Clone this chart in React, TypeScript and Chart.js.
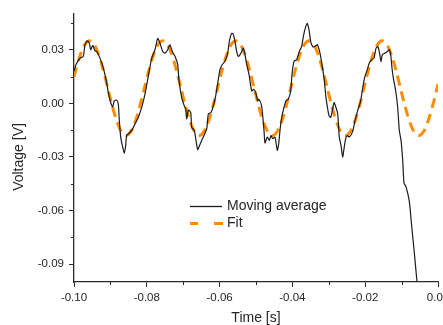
import React, { useEffect, useRef } from "react";
import { Chart, registerables } from "chart.js";

Chart.register(...registerables);

// Moving-average trace: time [s] and voltage [V]
const maTime = [
  -0.1, -0.09945, -0.09835, -0.09745, -0.09698, -0.09635, -0.0958, -0.09541, -0.09486, -0.09423,
  -0.09376, -0.09286, -0.09195, -0.09102, -0.09058, -0.08992, -0.08937, -0.08893, -0.08827, -0.08783,
  -0.08755, -0.08717, -0.08662, -0.08618, -0.0858, -0.08552, -0.08462, -0.08387, -0.08324, -0.08234,
  -0.0814, -0.0805, -0.07959, -0.07865, -0.07775, -0.07701, -0.07637, -0.07563, -0.075, -0.07426,
  -0.07363, -0.073, -0.07225, -0.07151, -0.07115, -0.07041, -0.0697, -0.06931, -0.06904, -0.0686,
  -0.06794, -0.06766, -0.06695, -0.06648, -0.06602, -0.06547, -0.06492, -0.06429, -0.06354, -0.0631,
  -0.06236, -0.06173, -0.06107, -0.06036, -0.05989, -0.05926, -0.05852, -0.05777, -0.05734, -0.05668,
  -0.05624, -0.05577, -0.0553, -0.05486, -0.05412, -0.05349, -0.05302, -0.05255, -0.05192, -0.05118,
  -0.05063, -0.05008, -0.04953, -0.04918, -0.04843, -0.0478, -0.04753, -0.0469, -0.04635, -0.04588,
  -0.04541, -0.04478, -0.04415, -0.04376, -0.04341, -0.04294, -0.04231, -0.04176, -0.04113, -0.04047,
  -0.04011, -0.03956, -0.03882, -0.0381, -0.03745, -0.037, -0.03635, -0.03591, -0.03544, -0.03497,
  -0.03442, -0.03379, -0.03316, -0.03242, -0.03187, -0.03132, -0.03077, -0.0303, -0.02995, -0.02948,
  -0.02904, -0.02857, -0.02802, -0.02755, -0.02712, -0.02665, -0.02618, -0.02582, -0.02536, -0.02492,
  -0.02437, -0.02349, -0.0228, -0.02212, -0.02124, -0.02069, -0.02005, -0.01942, -0.01887, -0.01821,
  -0.01758, -0.01703, -0.01657, -0.01613, -0.01566, -0.0153, -0.01456, -0.01393, -0.01338, -0.01299,
  -0.01264, -0.01228, -0.01162, -0.01107, -0.01063, -0.01016, -0.0097, -0.00934, -0.00879, -0.00788,
  -0.00723, -0.00651, -0.00585, -0.00535,
];
const maVolt = [
  0.018, 0.0217, 0.0253, 0.0263, 0.0328, 0.035, 0.0337, 0.03, 0.0324, 0.0294,
  0.029, 0.0253, 0.0198, 0.0115, 0.006, 0.0004, -0.002, 0.0014, 0.0018, -0.0004,
  -0.0097, -0.0189, -0.0245, -0.0278, -0.0235, -0.018, -0.0162, -0.0143, -0.0115, -0.0079,
  -0.0023, 0.0051, 0.0152, 0.0253, 0.03, 0.0364, 0.0336, 0.029, 0.0281, 0.03,
  0.0328, 0.029, 0.0263, 0.0217, 0.0125, 0.0032, -0.0014, -0.0032, -0.0087, -0.0038,
  -0.0051, -0.0134, -0.0152, -0.0208, -0.0259, -0.0235, -0.0208, -0.018, -0.0143, -0.006,
  -0.0051, -0.0014, 0.0042, 0.0134, 0.0189, 0.0217, 0.0235, 0.0281, 0.0346, 0.0392,
  0.0386, 0.0346, 0.029, 0.0263, 0.0281, 0.0309, 0.0272, 0.0217, 0.0162, 0.0069,
  0.0079, 0.006, 0.0014, 0.0023, -0.0018, -0.0152, -0.0222, -0.0189, -0.0208, -0.018,
  -0.0198, -0.0189, -0.0263, -0.0226, -0.0152, -0.0079, -0.0023, 0.0014, 0.0023, 0.0069,
  0.0162, 0.0235, 0.0245, 0.029, 0.0318, 0.0374, 0.0429, 0.0447, 0.0411, 0.0346,
  0.0318, 0.0318, 0.0328, 0.0281, 0.0217, 0.0143, 0.0032, -0.0032, -0.0069, -0.0079,
  -0.0042, 0.0004, -0.0023, -0.006, -0.0189, -0.0235, -0.03, -0.0253, -0.0198, -0.018,
  -0.0189, -0.016, -0.0097, -0.0045, 0.0014, 0.0087, 0.0152, 0.0189, 0.0226, 0.0245,
  0.0253, 0.0309, 0.0318, 0.029, 0.0235, 0.0272, 0.0281, 0.029, 0.03, 0.0272,
  0.0198, 0.0143, 0.0069, -0.0023, -0.0152, -0.0206, -0.0318, -0.0447, -0.0466, -0.0549,
  -0.0687, -0.0835, -0.0982, -0.108,
];

// Fitted curve, sampled every 1 ms from -0.100 s to 0.000 s
const fitTime = Array.from({ length: 101 }, (_, i) => -0.1 + i * 0.001);
const fitVolt = [
  0.0148, 0.0224, 0.0287, 0.033, 0.0349, 0.0343, 0.0312, 0.0259, 0.0189, 0.0109,
  0.0026, -0.005, -0.0114, -0.0158, -0.0179, -0.0174, -0.0144, -0.0092, -0.0022, 0.0057,
  0.014, 0.0217, 0.0281, 0.0326, 0.0348, 0.0345, 0.0316, 0.0265, 0.0196, 0.0117,
  0.0034, -0.0043, -0.0108, -0.0155, -0.0178, -0.0176, -0.0148, -0.0098, -0.003, 0.0049,
  0.0131, 0.0209, 0.0275, 0.0323, 0.0347, 0.0346, 0.032, 0.0271, 0.0204, 0.0125,
  0.0043, -0.0036, -0.0102, -0.0151, -0.0177, -0.0177, -0.0152, -0.0104, -0.0037, 0.0041,
  0.0123, 0.0202, 0.027, 0.0319, 0.0346, 0.0348, 0.0324, 0.0277, 0.0211, 0.0133,
  0.0051, -0.0028, -0.0096, -0.0147, -0.0175, -0.0178, -0.0155, -0.011, -0.0045, 0.0033,
  0.0115, 0.0195, 0.0263, 0.0315, 0.0344, 0.0349, 0.0327, 0.0282, 0.0218, 0.0141,
  0.0059, -0.0021, -0.009, -0.0143, -0.0173, -0.0179, -0.0159, -0.0115, -0.0052, 0.0024,
  0.0107,
];

// Axis ticks
const xMajorTicks = [-0.1, -0.08, -0.06, -0.04, -0.02, 0];
const xMinorTicks = [-0.09, -0.07, -0.05, -0.03, -0.01];
const yMajorTicks = [-0.09, -0.06, -0.03, 0, 0.03];
const yMinorTicks = [-0.075, -0.045, -0.015, 0.015, 0.045];

const seriesNames = ["Moving average", "Fit"];

const FONT = "'Liberation Sans', Arial, Helvetica, sans-serif";
const AXIS_COLOR = "#2a2a2a";
const TEXT_COLOR = "#262626";
const MA_COLOR = "#1c1c1c";
const FIT_COLOR = "#ff8c00";

// Minor ticks, axis titles and the in-plot legend
const decorPlugin = {
  id: "decor",
  afterDraw(chart: any) {
    const { ctx, chartArea, scales } = chart;
    const xs = scales.x;
    const ys = scales.y;
    ctx.save();
    ctx.strokeStyle = AXIS_COLOR;
    ctx.lineWidth = 1;
    ctx.beginPath();
    xMinorTicks.forEach((v) => {
      const px = Math.round(xs.getPixelForValue(v)) + 0.5;
      ctx.moveTo(px, chartArea.bottom);
      ctx.lineTo(px, chartArea.bottom + 3);
    });
    yMinorTicks.forEach((v) => {
      const py = Math.round(ys.getPixelForValue(v)) + 0.5;
      ctx.moveTo(chartArea.left, py);
      ctx.lineTo(chartArea.left - 3, py);
    });
    ctx.stroke();

    // axis titles
    ctx.fillStyle = TEXT_COLOR;
    ctx.font = `14px ${FONT}`;
    ctx.textAlign = "center";
    ctx.textBaseline = "middle";
    ctx.fillText("Time [s]", (chartArea.left + chartArea.right) / 2, 318);
    ctx.save();
    ctx.translate(19, 157);
    ctx.rotate(-Math.PI / 2);
    ctx.fillText("Voltage [V]", 0, 0);
    ctx.restore();

    // legend
    const lx = 190;
    const ly = 206.5;
    ctx.strokeStyle = MA_COLOR;
    ctx.lineWidth = 1.3;
    ctx.beginPath();
    ctx.moveTo(lx, ly);
    ctx.lineTo(lx + 32, ly);
    ctx.stroke();
    ctx.strokeStyle = FIT_COLOR;
    ctx.lineWidth = 3;
    ctx.beginPath();
    ctx.moveTo(lx, ly + 17);
    ctx.lineTo(lx + 8, ly + 17);
    ctx.moveTo(lx + 24, ly + 17);
    ctx.lineTo(lx + 33, ly + 17);
    ctx.stroke();
    ctx.fillStyle = TEXT_COLOR;
    ctx.font = `14px ${FONT}`;
    ctx.textAlign = "left";
    ctx.fillText(seriesNames[0], lx + 37, ly);
    ctx.fillText(seriesNames[1], lx + 37, ly + 17);
    ctx.restore();
  },
};

export default function App() {
  const canvasRef = useRef<HTMLCanvasElement | null>(null);

  useEffect(() => {
    const canvas = canvasRef.current;
    if (!canvas) return;
    const tickFont = { family: FONT, size: 11.5 };
    const chart = new Chart(canvas, {
      type: "line",
      data: {
        datasets: [
          {
            label: seriesNames[0],
            data: maTime.map((t, i) => ({ x: t, y: maVolt[i] })),
            borderColor: MA_COLOR,
            borderWidth: 1.2,
            pointRadius: 0,
            tension: 0.2,
            fill: false,
          },
          {
            label: seriesNames[1],
            data: fitTime.map((t, i) => ({ x: t, y: fitVolt[i] })),
            borderColor: FIT_COLOR,
            borderWidth: 3,
            borderDash: [10, 6],
            pointRadius: 0,
            tension: 0.4,
            fill: false,
          },
        ],
      },
      options: {
        animation: false,
        responsive: false,
        devicePixelRatio: 1,
        layout: { padding: { top: 14, right: 5, left: 0, bottom: 0 } },
        plugins: { legend: { display: false }, tooltip: { enabled: false } },
        scales: {
          x: {
            type: "linear",
            min: -0.1,
            max: 0,
            afterBuildTicks: (s: any) => {
              s.ticks = xMajorTicks.map((v) => ({ value: v }));
            },
            afterFit: (s: any) => {
              s.height = 43;
              s.paddingLeft = 0;
              s.paddingRight = 0;
            },
            ticks: {
              callback: (v: any) => Number(v).toFixed(2),
              font: tickFont,
              color: TEXT_COLOR,
              padding: 4,
              maxRotation: 0,
              autoSkip: false,
            },
            grid: {
              display: true,
              drawOnChartArea: false,
              drawTicks: true,
              tickLength: 5,
              tickColor: AXIS_COLOR,
              tickWidth: 1,
            },
            border: { display: true, color: AXIS_COLOR, width: 1.3 },
          },
          y: {
            type: "linear",
            min: -0.1,
            max: 0.05,
            afterBuildTicks: (s: any) => {
              s.ticks = yMajorTicks.map((v) => ({ value: v }));
            },
            afterFit: (s: any) => {
              s.width = 74;
            },
            ticks: {
              callback: (v: any) => Number(v).toFixed(2),
              font: tickFont,
              color: TEXT_COLOR,
              padding: 5,
              autoSkip: false,
            },
            grid: {
              display: true,
              drawOnChartArea: false,
              drawTicks: true,
              tickLength: 5,
              tickColor: AXIS_COLOR,
              tickWidth: 1,
            },
            border: { display: true, color: AXIS_COLOR, width: 1.3 },
          },
        },
      },
      plugins: [decorPlugin],
    });
    return () => chart.destroy();
  }, []);

  return (
    <div style={{ position: "fixed", left: 0, top: 0, width: 443, height: 325, background: "#fff" }}>
      <canvas ref={canvasRef} width={443} height={325} style={{ display: "block" }} />
    </div>
  );
}
